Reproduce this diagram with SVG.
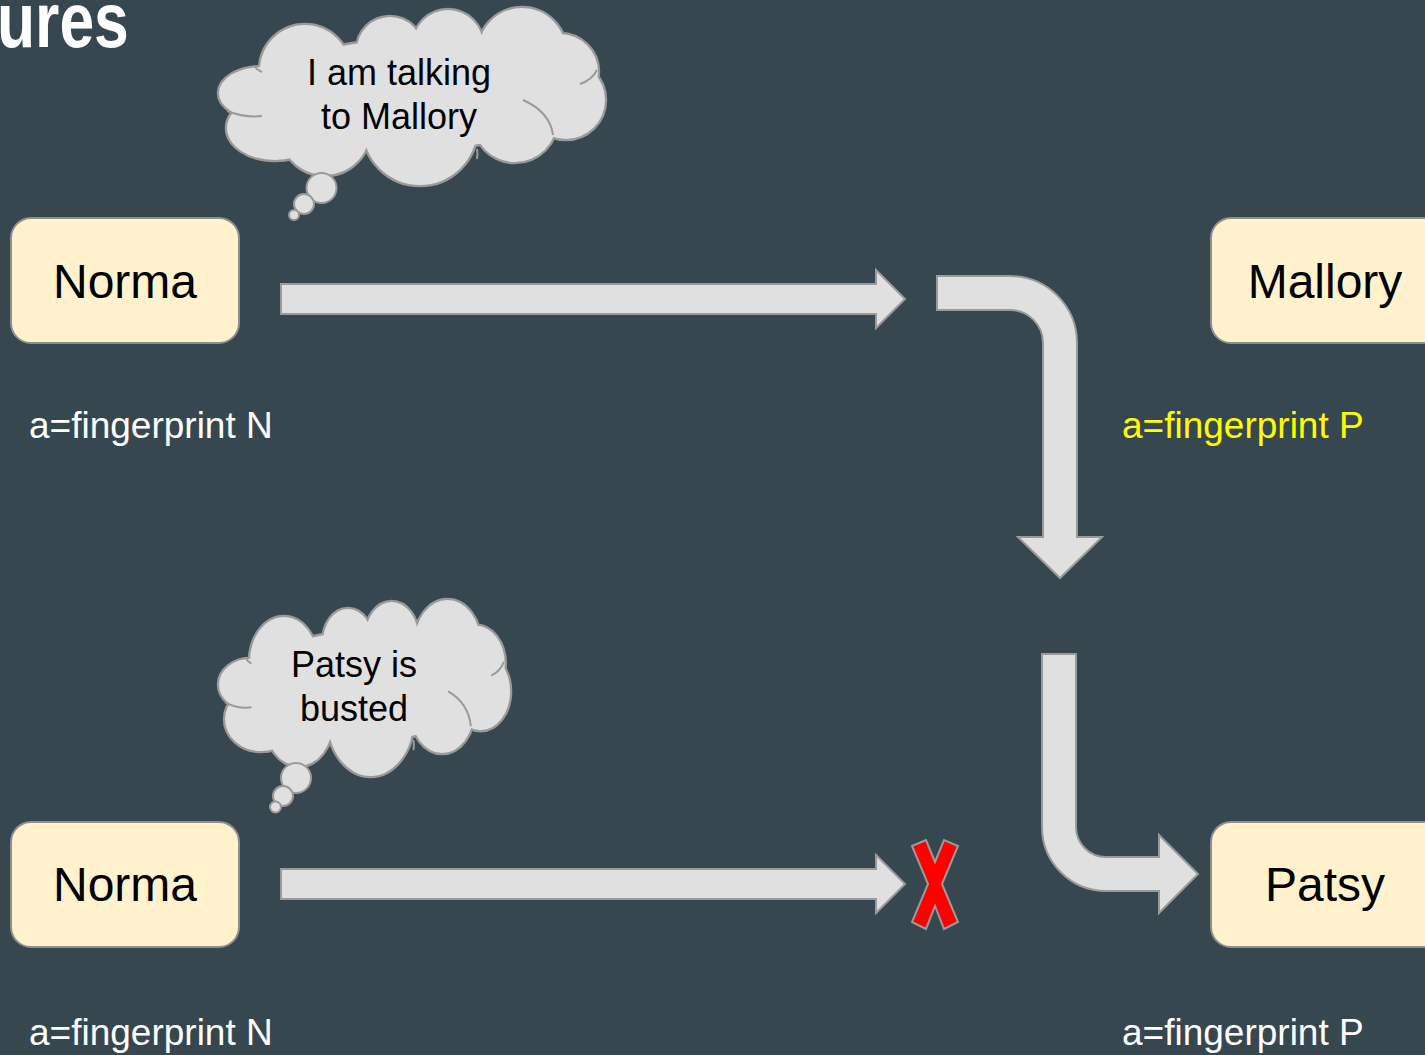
<svg xmlns="http://www.w3.org/2000/svg" xmlns:xlink="http://www.w3.org/1999/xlink" width="1425" height="1055" viewBox="0 0 1425 1055">
<style>
.box{fill:#fff2cc;stroke:#8f8f8f;stroke-width:2}
.name{font-family:"Liberation Sans",Arial,sans-serif;font-size:48px;fill:#000;text-anchor:middle}
.lbl{font-family:"Liberation Sans",Arial,sans-serif;font-size:37px;fill:#ffffff}
.think{font-family:"Liberation Sans",Arial,sans-serif;font-size:36px;fill:#000;text-anchor:middle}
.arrow{fill:#e0e0e0;stroke:#9a9a9a;stroke-width:2;stroke-linejoin:miter}
.cc{vector-effect:non-scaling-stroke}
.outline{fill:#9a9a9a;stroke:#9a9a9a;stroke-width:4.5}
.cfill{fill:#e0e0e0;stroke:none}
.inner{fill:none;stroke:#9a9a9a;stroke-width:2;vector-effect:non-scaling-stroke}
.bubble{fill:#e0e0e0;stroke:#9a9a9a;stroke-width:2}
</style>
<defs>
<g id="cloudCircles">
<ellipse class="cc" cx="262" cy="93" rx="43" ry="26"/>
<ellipse class="cc" cx="275" cy="128" rx="48" ry="32"/>
<circle class="cc" cx="305" cy="70" r="45"/>
<circle class="cc" cx="390" cy="50" r="33"/>
<circle class="cc" cx="448" cy="45" r="35"/>
<circle class="cc" cx="522" cy="52" r="44"/>
<circle class="cc" cx="560" cy="72" r="38"/>
<circle class="cc" cx="566" cy="100" r="39"/>
<circle class="cc" cx="515" cy="120" r="42"/>
<circle class="cc" cx="420" cy="128" r="57"/>
<circle class="cc" cx="325" cy="130" r="45"/>
<ellipse class="cc" cx="410" cy="95" rx="150" ry="55"/>
</g>
<g id="cloud">
<use xlink:href="#cloudCircles" class="outline"/>
<use xlink:href="#cloudCircles" class="cfill"/>
<path class="inner" d="M227,111 Q245,118 262,116"/>
<path class="inner" d="M523,100 Q550,112 553,135"/>
<path class="inner" d="M580,84 Q592,80 597,70"/>
<path class="inner" d="M477,149 Q478,154 477,159"/>
<path class="inner" d="M255,67 Q257,70 262,72"/>
</g>
</defs>
<rect x="0" y="0" width="1425" height="1055" fill="#37474f"/>
<text x="0" y="0" transform="translate(-3,47) scale(0.8,1)" font-family="'Liberation Sans',Arial,sans-serif" font-weight="bold" font-size="78" fill="#ffffff">ures</text>

<g id="connectors">
<path class="arrow" d="M281,284 H876 V270 L905,299 L876,328 V314 H281 Z"/>
<path class="arrow" d="M937,276 H1010 A67,67 0 0 1 1077,343 V537 H1102 L1060,578 L1018,537 H1043 V343 A33,33 0 0 0 1010,310 H937 Z"/>
<path class="arrow" d="M281,869 H876 V855 L905,884 L876,913 V899 H281 Z"/>
<path class="arrow" d="M1042,654 H1076 V827 A30,30 0 0 0 1106,857 H1159 V835 L1198,874 L1159,913 V891 H1106 A64,64 0 0 1 1042,827 Z"/>
</g>

<g id="cloud-top">
<use xlink:href="#cloud"/>
<circle class="bubble" cx="321.5" cy="188" r="15"/>
<circle class="bubble" cx="304" cy="204" r="10"/>
<circle class="bubble" cx="294" cy="215" r="5"/>
<text class="think" x="399" y="85">I am talking</text>
<text class="think" x="399" y="129">to Mallory</text>
</g>

<g id="cloud-bottom">
<use xlink:href="#cloud" transform="translate(219,600) scale(0.754,0.994) translate(-219,-8)"/>
<circle class="bubble" cx="296" cy="778" r="15"/>
<circle class="bubble" cx="283" cy="796" r="10"/>
<circle class="bubble" cx="275.5" cy="807" r="5.5"/>
<text class="think" x="354" y="677">Patsy is</text>
<text class="think" x="354" y="721">busted</text>
</g>

<g id="norma-top">
<rect class="box" x="11" y="218" width="228" height="125" rx="20"/>
<text class="name" x="125" y="298">Norma</text>
</g>
<g id="mallory">
<rect class="box" x="1211" y="218" width="240" height="125" rx="20"/>
<text class="name" x="1325" y="298">Mallory</text>
</g>
<g id="norma-bottom">
<rect class="box" x="11" y="822" width="228" height="125" rx="20"/>
<text class="name" x="125" y="901">Norma</text>
</g>
<g id="patsy">
<rect class="box" x="1211" y="822" width="240" height="125" rx="20"/>
<text class="name" x="1325" y="901">Patsy</text>
</g>

<g id="cross">
<polygon points="912,846 926,840 935,862 944,840 958,846 942,884 958,922 944,929 935,906 926,929 912,922 928,884" fill="#ff0000" stroke="#9a9a9a" stroke-width="2"/>
</g>

<g id="labels">
<text class="lbl" x="29" y="438">a=fingerprint N</text>
<text class="lbl" x="1122" y="438" style="fill:#ffff00">a=fingerprint P</text>
<text class="lbl" x="29" y="1045">a=fingerprint N</text>
<text class="lbl" x="1122" y="1045">a=fingerprint P</text>
</g>
</svg>
